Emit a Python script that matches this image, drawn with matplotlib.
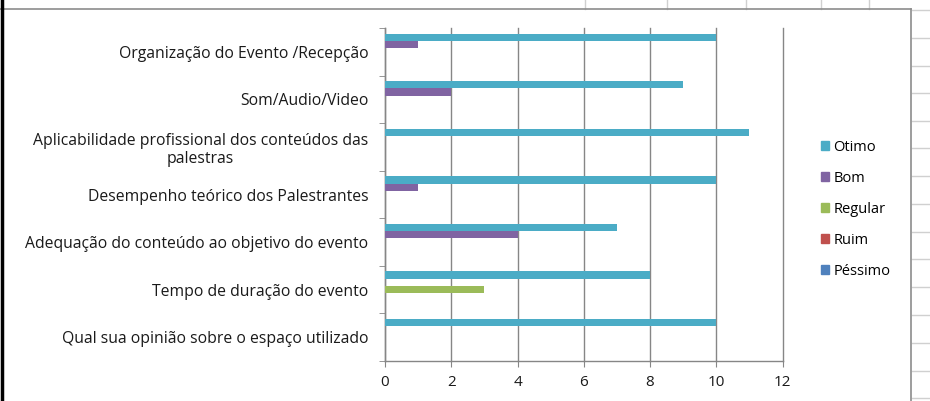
import numpy as np
import matplotlib.pyplot as plt
from matplotlib.lines import Line2D
from matplotlib.patches import Patch

# dados do grafico
categorias = [
    "Organização do Evento /Recepção",
    "Som/Audio/Video",
    "Aplicabilidade profissional dos conteúdos das\npalestras",
    "Desempenho teórico dos Palestrantes",
    "Adequação do conteúdo ao objetivo do evento",
    "Tempo de duração do evento",
    "Qual sua opinião sobre o espaço utilizado",
]
otimo = [10, 9, 11, 10, 7, 8, 10]
bom = [1, 2, 0, 1, 4, 0, 0]
regular = [0, 0, 0, 0, 0, 3, 0]
ruim = [0, 0, 0, 0, 0, 0, 0]
pessimo = [0, 0, 0, 0, 0, 0, 0]

series = ["Otimo", "Bom", "Regular", "Ruim", "Péssimo"]
valores = [otimo, bom, regular, ruim, pessimo]
cores = ["#4BACC6", "#8064A2", "#9BBB59", "#C0504D", "#4F81BD"]

plt.rcParams['font.family'] = ['Open Sans', 'DejaVu Sans']

W, H = 930, 401
fig = plt.figure(figsize=(W / 100, H / 100), dpi=100)
ax = fig.add_axes([385 / W, 1 - 361 / H, (782.5 - 385) / W, (361 - 28) / H])

y = np.arange(len(categorias))
h = 0.153
for i, (nome, vals, cor) in enumerate(zip(series, valores, cores)):
    ax.barh(y + (i - 2) * h, vals, height=h, color=cor, linewidth=0, label=nome, zorder=3)

ax.set_xlim(0, 12)
ax.set_ylim(len(categorias) - 0.5, -0.5)
ax.set_xticks(range(0, 13, 2))
ax.set_yticks(y)
ax.set_yticklabels(categorias, multialignment='center')
ax.set_yticks(np.arange(-0.5, len(categorias), 1), minor=True)

cinza = "#868686"
ax.grid(axis='x', color=cinza, linewidth=1, zorder=0)
for gl in ax.get_xgridlines():
    gl.set_clip_on(False)
for s in ['top', 'right']:
    ax.spines[s].set_visible(False)
for s in ['left', 'bottom']:
    ax.spines[s].set_color(cinza)
    ax.spines[s].set_linewidth(1)
ax.tick_params(axis='y', which='major', length=0, pad=12, labelsize=11.3, labelcolor='#1a1a1a')
ax.tick_params(axis='y', which='minor', length=4, color=cinza)
ax.tick_params(axis='x', length=4, color=cinza, labelsize=11, pad=6, labelcolor='#1a1a1a')

handles = [Patch(color=c) for c in cores]
fig.legend(handles, series, loc='upper left', bbox_to_anchor=(815 / W, 1 - 134 / H),
           frameon=False, fontsize=10.5, handlelength=0.55, handleheight=0.55,
           handletextpad=0.3, labelspacing=1.1, borderaxespad=0)

# moldura do grafico e linhas da planilha
linhas = "#d0d0d0"
for xv in [585, 667, 746, 821, 869]:
    fig.add_artist(Line2D([xv / W, xv / W], [1, 1 - 9 / H], color=linhas, lw=1))
for yv in [10, 38, 66, 93, 121, 148, 176, 204, 232, 259, 287, 315, 343, 371, 398]:
    fig.add_artist(Line2D([912 / W, 1], [1 - yv / H, 1 - yv / H], color=linhas, lw=1))
fig.add_artist(Line2D([0, 911 / W], [1 - 9 / H, 1 - 9 / H], color="#8c8c8c", lw=1.2))
fig.add_artist(Line2D([911 / W, 911 / W], [0, 1 - 9 / H], color="#8c8c8c", lw=1.2))
fig.add_artist(Line2D([1.5 / W, 1.5 / W], [0, 1], color="black", lw=2.5))

fig.savefig("out.png", dpi=100)
